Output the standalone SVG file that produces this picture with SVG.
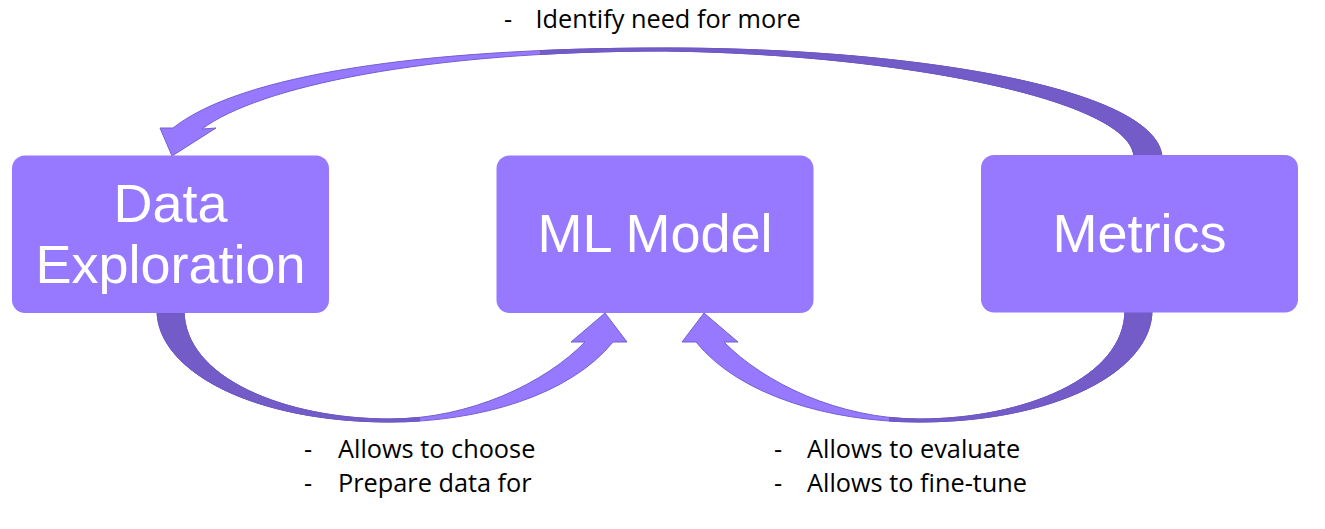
<svg xmlns="http://www.w3.org/2000/svg" width="1325" height="529" viewBox="0 0 1325 529">
<style>
.box{fill:#9679FF;}
.lbl{font-family:"Liberation Sans",Arial,sans-serif;font-size:54px;fill:#ffffff;text-anchor:middle;}
.note{font-family:"Open Sans","Noto Sans",sans-serif;font-size:25.3px;fill:#000000;}
.arr{fill:#9679FF;stroke:#7561CE;stroke-width:1;stroke-linejoin:round;}
.arrd{fill:#735CC8;stroke:#6E58C2;stroke-width:1;stroke-linejoin:round;}
</style>
<defs>
<clipPath id="clipBottom" clipPathUnits="userSpaceOnUse"><rect x="0" y="0" width="420" height="529"/></clipPath>
<clipPath id="clipTop" clipPathUnits="userSpaceOnUse"><rect x="540" y="0" width="785" height="529"/></clipPath>
</defs>
<g id="connectors">
<g id="arrow-top">
<path class="arr" d="M1162,158 C1160,90 920,48 665,48 C420,48 240,75 173,128 L160,128 L172,156 L216,128 L202,129 C258,87 425,51 665,51 C900,54 1134,100 1134,158 Z"/>
<path class="arrd" clip-path="url(#clipTop)" d="M1162,158 C1160,90 920,48 665,48 C420,48 240,75 173,128 L160,128 L172,156 L216,128 L202,129 C258,87 425,51 665,51 C900,54 1134,100 1134,158 Z"/>
</g>
<g id="arrow-bottom-left">
<path class="arr" d="M157,310 C157,372 255,422 390,422 C480,422 570,395 613,342 L627,342 L605,313 L571,342 L585,342 C545,383 470,419 390,419 C285,419 184,378 184,310 Z"/>
<path class="arrd" clip-path="url(#clipBottom)" d="M157,310 C157,372 255,422 390,422 C480,422 570,395 613,342 L627,342 L605,313 L571,342 L585,342 C545,383 470,419 390,419 C285,419 184,378 184,310 Z"/>
</g>
<g id="arrow-bottom-right" transform="matrix(-1 0 0 1 1309 0)">
<path class="arr" d="M157,310 C157,372 255,422 390,422 C480,422 570,395 613,342 L627,342 L605,313 L571,342 L585,342 C545,383 470,419 390,419 C285,419 184,378 184,310 Z"/>
<path class="arrd" clip-path="url(#clipBottom)" d="M157,310 C157,372 255,422 390,422 C480,422 570,395 613,342 L627,342 L605,313 L571,342 L585,342 C545,383 470,419 390,419 C285,419 184,378 184,310 Z"/>
</g>
</g>
<g id="node-data-exploration">
<rect class="box" x="12" y="155.5" width="317" height="157.5" rx="13"/>
<text class="lbl" x="170.5" y="222">Data</text>
<text class="lbl" x="170.5" y="283">Exploration</text>
</g>
<g id="node-ml-model">
<rect class="box" x="496.5" y="155.5" width="317" height="157.5" rx="13"/>
<text class="lbl" x="655" y="252">ML Model</text>
</g>
<g id="node-metrics">
<rect class="box" x="981" y="155" width="317" height="157.5" rx="13"/>
<text class="lbl" x="1139.5" y="252">Metrics</text>
</g>
<g id="notes">
<text class="note" y="28"><tspan x="504">-</tspan><tspan x="535.5">Identify need for more</tspan></text>
<text class="note" y="458"><tspan x="304">-</tspan><tspan x="338">Allows to choose</tspan></text>
<text class="note" y="492"><tspan x="304">-</tspan><tspan x="338">Prepare data for</tspan></text>
<text class="note" y="458"><tspan x="774">-</tspan><tspan x="807">Allows to evaluate</tspan></text>
<text class="note" y="492"><tspan x="774">-</tspan><tspan x="807">Allows to fine-tune</tspan></text>
</g>
</svg>
